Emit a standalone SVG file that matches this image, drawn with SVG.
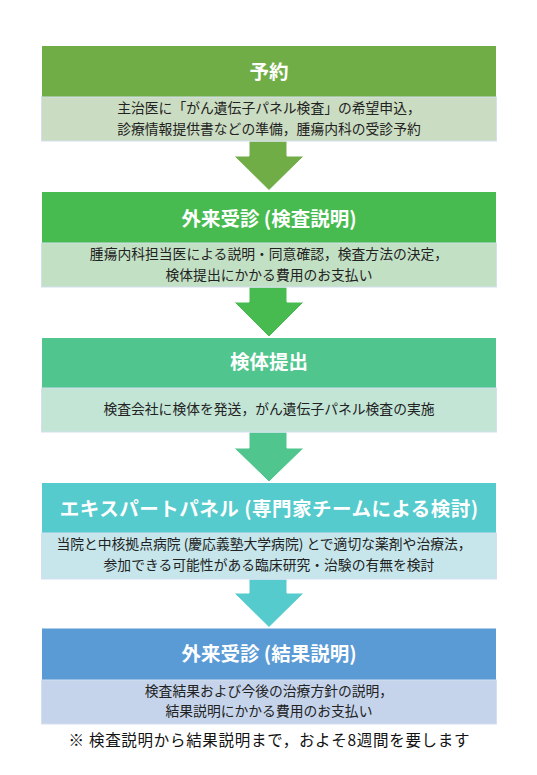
<svg xmlns="http://www.w3.org/2000/svg" width="537" height="775" viewBox="0 0 537 775">
<style>
.hd{font-family:"Noto Sans CJK JP","Noto Sans",sans-serif;font-weight:bold;font-size:19.5px;fill:#fff;text-anchor:middle}
.sb{font-family:"Noto Sans CJK JP","Noto Sans",sans-serif;font-size:13.8px;fill:#222;text-anchor:middle}
.ft{font-family:"Noto Sans CJK JP","Noto Sans",sans-serif;font-size:15.5px;fill:#111;text-anchor:middle;letter-spacing:0.7px}
.box{stroke:#d5dff0;stroke-width:1}
.arr{stroke:#ffffff;stroke-width:1}
</style>
<rect width="537" height="775" fill="#fff"/>
<g id="connectors">
<polygon class="arr" fill="#70ad47" points="249,141 287,141 287,156 304,156 269,190.5 234,156 249,156"/>
<polygon class="arr" fill="#47bb4f" points="249,287 287,287 287,302 304,302 269,337 234,302 249,302"/>
<polygon class="arr" fill="#50c58d" points="249,432 287,432 287,448 304,448 269,482 234,448 249,448"/>
<polygon class="arr" fill="#55cbcd" points="249,579 287,579 287,593 304,593 269,627.5 234,593 249,593"/>
</g>
<g id="node1">
<rect x="42" y="46" width="454" height="51" fill="#70ad47"/>
<rect class="box" x="41.5" y="97" width="455" height="44" fill="#cadcc1"/>
<text class="hd" x="269" y="79">予約</text>
<text class="sb" x="269" y="113.3">主治医に「がん遺伝子パネル検査」の希望申込，</text>
<text class="sb" x="269" y="134.3">診療情報提供書などの準備，腫瘍内科の受診予約</text>
</g>
<g id="node2">
<rect x="42" y="192" width="454" height="51" fill="#47bb4f"/>
<rect class="box" x="41.5" y="243" width="455" height="44" fill="#c2e0c4"/>
<text class="hd" x="269" y="225.8">外来受診 (検査説明)</text>
<text class="sb" x="269" y="258.6">腫瘍内科担当医による説明・同意確認，検査方法の決定，</text>
<text class="sb" x="269" y="280.3">検体提出にかかる費用のお支払い</text>
</g>
<g id="node3">
<rect x="42" y="338" width="454" height="50" fill="#50c58d"/>
<rect class="box" x="41.5" y="388" width="455" height="44" fill="#c2e5d6"/>
<text class="hd" x="269" y="369.2">検体提出</text>
<text class="sb" x="269" y="414.3">検査会社に検体を発送，がん遺伝子パネル検査の実施</text>
</g>
<g id="node4">
<rect x="42" y="483" width="454" height="50" fill="#55cbcd"/>
<rect class="box" x="41.5" y="533" width="455" height="46" fill="#c6e6eb"/>
<text class="hd" x="269.3" y="515.8" letter-spacing="0.5">エキスパートパネル (専門家チームによる検討)</text>
<text class="sb" x="264" y="548.6">当院と中核拠点病院 (慶応義塾大学病院) とで適切な薬剤や治療法，</text>
<text class="sb" x="269" y="570.3">参加できる可能性がある臨床研究・治験の有無を検討</text>
</g>
<g id="node5">
<rect x="42" y="628.5" width="454" height="51.5" fill="#5b9bd5"/>
<rect class="box" x="41.5" y="680" width="455" height="44" fill="#c5d4eb"/>
<text class="hd" x="269" y="660.8">外来受診 (結果説明)</text>
<text class="sb" x="269" y="696">検査結果および今後の治療方針の説明，</text>
<text class="sb" x="269" y="716">結果説明にかかる費用のお支払い</text>
</g>
<text class="ft" x="269.4" y="745.5">※ 検査説明から結果説明まで，およそ8週間を要します</text>
</svg>
